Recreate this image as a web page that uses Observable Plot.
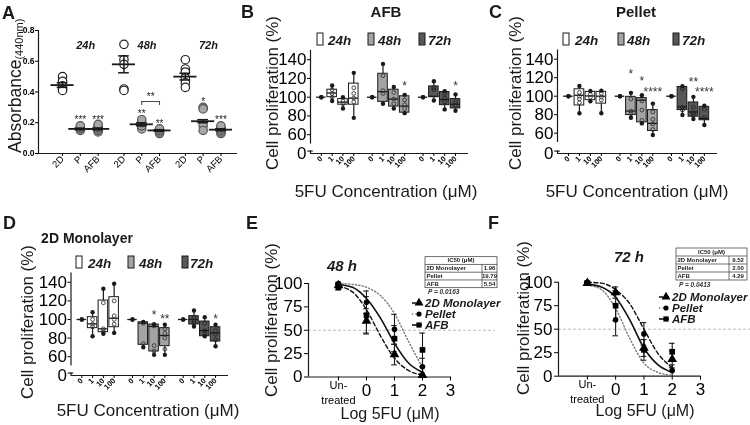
<!DOCTYPE html>
<html><head><meta charset="utf-8">
<script src="https://cdn.jsdelivr.net/npm/d3@7"></script>
<script src="https://cdn.jsdelivr.net/npm/@observablehq/plot@0.6"></script>
<style>
body{margin:0;background:#fff}
#fig{position:relative;width:750px;height:425px;overflow:hidden;background:#fff}
#fig svg{position:absolute;left:0;top:0;background:transparent !important;overflow:visible;max-width:none;will-change:transform}
</style></head><body><div id="fig"></div>
<script>
// ---------------- DATA ----------------
const times = ["24h", "48h", "72h"];
const absGroups = ["2D", "P", "AFB"];
// Panel A: absorbance points [time][group]
const absPoints = [
  [[0.50, 0.47, 0.44, 0.42, 0.41], [0.15, 0.16, 0.17, 0.18], [0.14, 0.15, 0.16, 0.17, 0.18, 0.19]],
  [[0.71, 0.61, 0.58, 0.42, 0.41], [0.16, 0.18, 0.20, 0.22], [0.13, 0.14, 0.15, 0.16]],
  [[0.61, 0.55, 0.53, 0.49, 0.46, 0.43], [0.30, 0.29, 0.18, 0.15], [0.13, 0.14, 0.15, 0.16, 0.17, 0.18]]
];
const absMean = [[0.445, 0.16, 0.16], [0.58, 0.19, 0.15], [0.50, 0.21, 0.155]];
const absSem = [[0.015, 0.005, 0.006], [0.055, 0.01, 0.005], [0.022, 0.01, 0.006]];
const absStars = [[0, 1, 0.236, "***"], [0, 2, 0.236, "***"], [1, 1, 0.275, "**"], [1, 2, 0.215, "**"], [2, 1, 0.356, "*"], [2, 2, 0.236, "***"]];
const absBracket = {time: 1, from: 1, to: 2, y: 0.338, foot: 0.312, label: "**", labelY: 0.39};

// Panels B-D: box stats [time][conc] = [min, q1, median, q3, max]
const concs = ["0", "1", "10", "100"];
const afbStats = [
  [[100,100,100,100,100], [96,100,104.5,108,112.5], [88,92,94.7,98,100], [78,92,99,114.5,126]],
  [[100,100,100,100,100], [93,95,106,125,135.5], [88,90,98,108,111], [83,83.5,90.5,101,102.5]],
  [[100,100,100,100,100], [96.5,100,101,111.5,117], [87,91.5,97.5,105.5,106.5], [85.5,88,92.5,98,103]]
];
const afbPoints = [
  [[], [108,104,100], [96,93], [110,104,99,95]],
  [[], [123,107,104], [105,98,93], [97,92,88]],
  [[], [110,108], [104,99,95], [95,91]]
];
const afbStars = [[1, 3, 116, "*"], [2, 3, 116, "*"]];

const pelletStats = [
  [[100,100,100,100,100], [81.5,90,101,107.5,111], [94.5,95.7,100.3,104.7,105.7], [81.5,92,100,104.7,106]],
  [[100,100,100,100,100], [76.7,79.6,84,99.3,103.6], [70.6,71.7,95.7,98,101], [58,62.4,70.6,85,92]],
  [[100,100,100,100,100], [79.6,85,88.5,110,110.7], [75.3,77.8,83,93.2,99.3], [68.8,74,76,88.5,89.6]]
];
const pelletPoints = [
  [[], [104,100,97,93], [102,99], [103,99,96]],
  [[], [97,84,81], [95,85,74], [83,75,70,64]],
  [[], [108,88,85], [88,82,80], [86,77]]
];
const pelletStars = [[1, 1, 128, "*"], [1, 2, 121, "*"], [1, 3, 109, "****"], [2, 2, 120, "**"], [2, 3, 109, "****"]];

const monoStats = [
  [[100,100,100,100,100], [82,90.7,95.3,102.5,107.9], [84.6,86.4,90,120.4,133], [85.6,91.7,101.4,124,138.4]],
  [[100,100,100,100,100], [70.2,72.8,96,97,97.5], [62,65.6,92.5,94.6,95], [62,71.3,82.8,90.7,94.3]],
  [[100,100,100,100,100], [92.5,94.6,100,103.6,109.7], [82,82,88.2,97.8,102.5], [71.3,76.3,85.6,91.7,94.3]]
];
const monoPoints = [
  [[], [100,95,92], [118,90,87], [120,104,100,95]],
  [[], [96,74], [93,72,66], [90,85,80,68]],
  [[], [102,98,96], [96,88,85], [88,84,78]]
];
const monoStars = [[1, 2, 108.6, "*"], [1, 3, 105, "**"], [2, 3, 104.3, "*"]];
const boxTicks = [60, 80, 100, 120, 140];

// Panels E-F: dose response (x = log10 µM, untreated plotted at -1)
const series = ["2D Monolayer", "Pellet", "AFB"];
const doseX = [-1, 0, 1, 2];
const e48MonoMean = [98, 60, 24, 2],  e48MonoErr = [2, 13, 11, 2];
const e48PelletMean = [100, 80, 51, 11], e48PelletErr = [1, 12, 16, 9];
const e48AfbMean = [96, 66, 41, 29], e48AfbErr = [3, 20, 14, 18];
const f72MonoMean = [99, 89, 30, 18], f72MonoErr = [1, 6, 9, 9];
const f72PelletMean = [100, 60, 45, 6], f72PelletErr = [1, 17, 12, 6];
const f72AfbMean = [99, 75, 28, 26], f72AfbErr = [1, 16, 11, 9];
// fitted curves, read at these x positions
const curveX = [-1, -0.5, 0, 0.5, 1, 1.5, 2];
const e48MonoCurve = [97, 91, 72, 44, 20, 7, 2];
const e48PelletCurve = [100, 99, 96, 87, 68, 38, 10];
const e48AfbCurve = [99, 96, 84, 63, 36, 15, 5];
const f72MonoCurve = [100, 99, 92, 77, 50, 24, 9];
const f72PelletCurve = [97, 92, 72, 40, 14, 4, 1];
const f72AfbCurve = [98, 95, 84, 60, 30, 12, 4];
const ic50At48 = ["1.96", "19.79", "5.54"];
const ic50At72 = ["9.52", "2.00", "4.29"];
const pAt48 = "P = 0.0163", pAt72 = "P = 0.0413";

// ---------------- STYLE ----------------
const FONT = "Liberation Sans, Arial, Helvetica, sans-serif";
const timeFill = ["#ffffff", "#a4a4a4", "#585858"];
const INK = "#1a1a1a";
const fig = document.getElementById("fig");

function plotAt(opts) {
  const svg = Plot.plot(Object.assign({width: 750, height: 425, style: {fontFamily: FONT, background: "transparent", overflow: "visible"}}, opts));
  fig.appendChild(svg);
}

// ---------------- PANEL A ----------------
(function () {
  const G = 3.45;
  const rows = [];
  times.forEach((t, ti) => absGroups.forEach((g, gi) => rows.push({p: ti * G + gi, ti, gi, m: absMean[ti][gi], s: absSem[ti][gi], label: g})));
  const pts = rows.flatMap(r => absPoints[r.ti][r.gi].map(v => ({p: r.p, v, gi: r.gi})));
  const stars = absStars.map(([ti, gi, v, s]) => ({p: ti * G + gi, v, s}));
  const tl = times.map((t, ti) => ({p: ti * G + 1.3, t}));
  const bx1 = absBracket.time * G + absBracket.from, bx2 = absBracket.time * G + absBracket.to;
  const labelOf = new Map(rows.map(r => [r.p, r.label]));
  const xmin = -1.35, xmax = 9.83;
  plotAt({
    marginLeft: 38, marginRight: 750 - 237, marginTop: 30, marginBottom: 425 - 153,
    x: {domain: [xmin, xmax], label: null},
    y: {domain: [0, 0.8], label: null},
    color: {type: "identity"},
    marks: [
      Plot.ruleX([xmin], {y1: 0, y2: 0.8, stroke: INK, strokeWidth: 1.2}),
      Plot.ruleY([0], {x1: xmin, x2: xmax, stroke: INK, strokeWidth: 1.2}),
      Plot.axisY({ticks: [0, 0.2, 0.4, 0.6, 0.8], tickFormat: ".1f", tickSize: 3, tickPadding: 1, fontSize: 8.5, fontWeight: "bold", label: null}),
      Plot.axisX({ticks: rows.map(r => r.p), tickFormat: d => labelOf.get(d), tickRotate: -45, tickSize: 3, tickPadding: 1, fontSize: 9.5, label: null}),
      Plot.dot(pts, {x: "p", y: "v", r: 4.2, fill: d => d.gi === 0 ? "#ffffff" : "#a8a8a8", stroke: d => d.gi === 0 ? "#222" : "#555", strokeWidth: 1.2}),
      Plot.ruleY(rows, {y: "m", x1: d => d.p - 0.65, x2: d => d.p + 0.65, stroke: INK, strokeWidth: 1.8}),
      Plot.ruleX(rows, {x: "p", y1: d => d.m - d.s, y2: d => d.m + d.s, stroke: INK, strokeWidth: 1.5}),
      Plot.ruleY(rows, {y: d => d.m + d.s, x1: d => d.p - 0.3, x2: d => d.p + 0.3, stroke: INK, strokeWidth: 1.5}),
      Plot.ruleY(rows, {y: d => d.m - d.s, x1: d => d.p - 0.3, x2: d => d.p + 0.3, stroke: INK, strokeWidth: 1.5}),
      Plot.text(stars, {x: "p", y: "v", text: "s", fontSize: 10, dy: 3, fill: "#222"}),
      Plot.ruleY([absBracket.y], {x1: bx1, x2: bx2, stroke: "#444", strokeWidth: 1}),
      Plot.ruleX([bx1, bx2], {y1: absBracket.foot, y2: absBracket.y, stroke: "#444", strokeWidth: 1}),
      Plot.text([absBracket.label], {x: (bx1 + bx2) / 2, y: absBracket.labelY, text: d => d, fontSize: 10, dy: 3, fill: "#222"}),
      Plot.text(tl, {x: "p", y: 0.70, text: "t", fontSize: 11, fontWeight: "bold", fontStyle: "italic", fill: INK})
    ]
  });
})();

// ---------------- PANELS B, C, D ----------------
function boxPanel(cfg) {
  const G = 4.7, W = 0.44, xmin = -1, xmax = 13.6;
  const yTop = cfg.y100 - 50 * cfg.ppu;          // pixel of value 150
  const yBase = 100 - (cfg.y0 - cfg.y100) / cfg.ppu; // broken-axis value drawn as "0"
  const rows = [];
  cfg.stats.forEach((grp, ti) => grp.forEach((s, ci) => rows.push({p: ti * G + ci, ti, ci, lo: s[0], q1: s[1], med: s[2], q3: s[3], hi: s[4], label: concs[ci]})));
  const pts = rows.flatMap(r => cfg.points[r.ti][r.ci].map(v => ({p: r.p, v, ti: r.ti})));
  const ends = rows.flatMap(r => [{p: r.p, v: r.lo}, {p: r.p, v: r.hi}]);
  const stars = cfg.stars.map(([ti, ci, v, s]) => ({p: ti * G + ci, v, s}));
  const labelOf = new Map(rows.map(r => [r.p, r.label]));
  plotAt({
    marginLeft: cfg.x0, marginRight: 750 - cfg.x1, marginTop: yTop, marginBottom: 425 - cfg.y0,
    x: {domain: [xmin, xmax], label: null},
    y: {domain: [yBase, 150], label: null},
    color: {type: "identity"},
    marks: [
      Plot.ruleX([xmin], {y1: 50, y2: 150, stroke: INK, strokeWidth: 1.2}),
      Plot.ruleX([xmin], {y1: yBase, y2: yBase + 2.6, stroke: INK, strokeWidth: 1.2}),
      Plot.ruleY([yBase + 2.6], {x1: xmin - 0.25, x2: xmin + 0.25, stroke: INK, strokeWidth: 1.2}),
      Plot.ruleY([yBase], {x1: xmin, x2: xmax, stroke: INK, strokeWidth: 1.2}),
      Plot.axisY({ticks: boxTicks, tickSize: 3, tickPadding: 1, fontSize: 17, label: null}),
      Plot.axisY({ticks: [yBase], tickFormat: () => "0", tickSize: 0, tickPadding: 4, fontSize: 17, label: null}),
      Plot.axisX({ticks: rows.map(r => r.p), tickFormat: d => labelOf.get(d), tickRotate: -45, tickSize: 3, tickPadding: 1, fontSize: 7.5, fontWeight: "bold", label: null}),
      Plot.ruleX(rows, {x: "p", y1: "q3", y2: "hi", stroke: INK, strokeWidth: 1.2}),
      Plot.ruleX(rows, {x: "p", y1: "lo", y2: "q1", stroke: INK, strokeWidth: 1.2}),
      Plot.rect(rows, {x1: d => d.p - W, x2: d => d.p + W, y1: "q1", y2: "q3", fill: d => timeFill[d.ti], stroke: INK, strokeWidth: 1}),
      Plot.ruleY(rows, {y: "med", x1: d => d.p - W, x2: d => d.p + W, stroke: INK, strokeWidth: 1.3}),
      Plot.dot(pts, {x: "p", y: "v", r: 1.9, fill: "none", stroke: d => d.ti === 2 ? "#222" : "#333", strokeWidth: 0.9}),
      Plot.dot(ends, {x: "p", y: "v", r: 2.2, fill: INK}),
      Plot.text(stars, {x: "p", y: "v", text: "s", fontSize: 12, dy: 4, fill: "#333"})
    ]
  });
}
boxPanel({stats: afbStats, points: afbPoints, stars: afbStars, x0: 310, x1: 468, y0: 153, y100: 96.7, ppu: 0.9375});
boxPanel({stats: pelletStats, points: pelletPoints, stars: pelletStars, x0: 557, x1: 717, y0: 153, y100: 95.7, ppu: 0.925});
boxPanel({stats: monoStats, points: monoPoints, stars: monoStars, x0: 70.5, x1: 228, y0: 375, y100: 319, ppu: 0.93});

// ---------------- PANELS E, F ----------------
const lineStyle = [
  {stroke: "#111", dash: "4,2.5", width: 1.4, symbol: "triangle", r: 3.6},
  {stroke: "#777", dash: "1.2,2.2", width: 1.4, symbol: "circle", r: 2.8},
  {stroke: "#111", dash: null, width: 1.6, symbol: "square", r: 3.2}
];
function dosePanel(cfg) {
  const rows = [];
  series.forEach((s, si) => doseX.forEach((x, i) => rows.push({x, si, m: cfg.mean[si][i], e: cfg.err[si][i]})));
  const curves = series.map((s, si) => curveX.map((x, i) => ({x, y: cfg.curve[si][i]})));
  const xmin = cfg.xmin;
  plotAt({
    marginLeft: cfg.x0, marginRight: 750 - cfg.x1, marginTop: cfg.y100, marginBottom: 425 - cfg.y0,
    x: {domain: [xmin, 3], label: null},
    y: {domain: [0, 100], label: null},
    marks: [
      Plot.ruleY([50], {x1: xmin, x2: cfg.refEnd, stroke: "#b5b5b5", strokeWidth: 0.9, strokeDasharray: "3,2"}),
      Plot.ruleX([xmin], {y1: 0, y2: 100, stroke: INK, strokeWidth: 1.2}),
      Plot.ruleY([0], {x1: xmin, x2: 3, stroke: INK, strokeWidth: 1.2}),
      Plot.axisY({ticks: [0, 25, 50, 75, 100], tickSize: 4, tickPadding: 2, fontSize: 17, label: null}),
      Plot.axisX({ticks: [-1, 0, 1, 2, 3], tickFormat: d => d < 0 ? "" : String(d), tickSize: 4, tickPadding: 3, fontSize: 17, label: null}),
      Plot.axisX({ticks: [-1], tickFormat: () => "Un-\ntreated", tickSize: 0, tickPadding: 1, fontSize: 11, lineHeight: 1.36, label: null}),
      ...curves.map((c, si) => Plot.line(c, {x: "x", y: "y", curve: "monotone-x", stroke: lineStyle[si].stroke, strokeWidth: lineStyle[si].width, strokeDasharray: lineStyle[si].dash})),
      Plot.ruleX(rows, {x: "x", y1: d => Math.max(0, d.m - d.e), y2: d => d.m + d.e, stroke: INK, strokeWidth: 1.1}),
      Plot.ruleY(rows, {y: d => d.m + d.e, x1: d => d.x - 0.1, x2: d => d.x + 0.1, stroke: INK, strokeWidth: 1.1}),
      Plot.ruleY(rows.filter(d => d.m - d.e > 0), {y: d => d.m - d.e, x1: d => d.x - 0.1, x2: d => d.x + 0.1, stroke: INK, strokeWidth: 1.1}),
      ...series.map((s, si) => Plot.dot(rows.filter(d => d.si === si), {x: "x", y: "m", symbol: lineStyle[si].symbol, r: lineStyle[si].r, fill: "#000"}))
    ]
  });
}
dosePanel({mean: [e48MonoMean, e48PelletMean, e48AfbMean], err: [e48MonoErr, e48PelletErr, e48AfbErr],
  curve: [e48MonoCurve, e48PelletCurve, e48AfbCurve], x0: 308, x1: 450, y0: 376.5, y100: 283, xmin: -2.07, refEnd: 4.6});
dosePanel({mean: [f72MonoMean, f72PelletMean, f72AfbMean], err: [f72MonoErr, f72PelletErr, f72AfbErr],
  curve: [f72MonoCurve, f72PelletCurve, f72AfbCurve], x0: 558, x1: 700, y0: 375.7, y100: 281.7, xmin: -2.02, refEnd: 6.6});

// ---------------- ANNOTATIONS ----------------
const ann = d3.select(fig).append("svg").attr("width", 750).attr("height", 425).style("font-family", FONT);
function txt(x, y, s, o = {}) {
  const t = ann.append("text").attr("x", x).attr("y", y).text(s)
    .attr("font-size", o.size || 12).attr("font-weight", o.weight || "normal").attr("font-style", o.style || "normal")
    .attr("text-anchor", o.anchor || "start").attr("fill", o.fill || INK);
  if (o.rotate) t.attr("transform", `rotate(${o.rotate},${x},${y})`);
  if (o.baseline) t.attr("dominant-baseline", o.baseline);
  return t;
}
// panel letters
[["A", 2, 19], ["B", 241, 18], ["C", 489, 18], ["D", 3, 229], ["E", 246, 229], ["F", 488, 229]]
  .forEach(([l, x, y]) => txt(x, y, l, {size: 18, weight: "bold"}));
// titles
txt(386, 17, "AFB", {size: 15, weight: "bold", anchor: "middle"});
txt(636, 17, "Pellet", {size: 15, weight: "bold", anchor: "middle"});
txt(87, 243, "2D Monolayer", {size: 14, weight: "bold", anchor: "middle"});
txt(342, 271, "48 h", {size: 15, weight: "bold", style: "italic", anchor: "middle"});
txt(629, 262, "72 h", {size: 15, weight: "bold", style: "italic", anchor: "middle"});
// axis titles
const absT = txt(21, 153, "Absorbance", {size: 17.5, rotate: -90});
absT.append("tspan").attr("font-size", 11).attr("dy", 2).text("(440nm)");
[[272, 93], [515, 93], [27, 322], [271, 320], [523, 318]].forEach(([x, y]) =>
  txt(x, y, "Cell proliferation (%)", {size: 17, anchor: "middle", rotate: -90, baseline: "central"}));
txt(386, 197, "5FU Concentration (\u03bcM)", {size: 17, anchor: "middle"});
txt(637, 197, "5FU Concentration (\u03bcM)", {size: 17, anchor: "middle"});
txt(148, 416, "5FU Concentration (\u03bcM)", {size: 17, anchor: "middle"});
txt(390, 419, "Log 5FU (\u03bcM)", {size: 16, anchor: "middle"});
txt(645, 416, "Log 5FU (\u03bcM)", {size: 16, anchor: "middle"});
// time legends for box panels
function timeLegend(rx, tx, y) {
  times.forEach((t, i) => {
    ann.append("rect").attr("x", rx[i]).attr("y", y - 12).attr("width", 6).attr("height", 12)
      .attr("fill", timeFill[i]).attr("stroke", INK).attr("stroke-width", 1);
    txt(tx[i], y, t, {size: 13.5, weight: "bold", style: "italic"});
  });
}
timeLegend([317, 368, 419], [328, 378, 428], 45);
timeLegend([563, 618, 673], [575, 627, 682], 45);
timeLegend([76, 128, 182], [88, 139, 190], 268);
// dose legends
function doseLegend(sx, tx, ys) {
  series.forEach((s, i) => {
    const st = lineStyle[i];
    ann.append("line").attr("x1", sx - 7).attr("x2", sx + 3).attr("y1", ys[i]).attr("y2", ys[i])
      .attr("stroke", st.stroke).attr("stroke-width", st.width).attr("stroke-dasharray", st.dash);
    const sym = {triangle: d3.symbolTriangle, circle: d3.symbolCircle, square: d3.symbolSquare}[st.symbol];
    ann.append("path").attr("d", d3.symbol(sym, Math.PI * st.r * st.r * 0.85)()).attr("transform", `translate(${sx},${ys[i]})`).attr("fill", "#000");
    txt(tx, ys[i] + 4, s, {size: 11.5, weight: "bold", style: "italic"});
  });
}
doseLegend(419, 425, [303, 314, 325]);
doseLegend(666, 672, [297, 308, 319]);
// IC50 tables
function ic50Table(x0, x1, y0, y1, xs, vals, ptxt) {
  const rh = (y1 - y0) / 4;
  const g = ann.append("g").attr("font-size", 6).attr("font-weight", "bold").attr("fill", INK);
  g.append("rect").attr("x", x0).attr("y", y0).attr("width", x1 - x0).attr("height", y1 - y0).attr("fill", "#fff").attr("stroke", "#333").attr("stroke-width", 0.7);
  for (let i = 1; i < 4; i++) g.append("line").attr("x1", x0).attr("x2", x1).attr("y1", y0 + i * rh).attr("y2", y0 + i * rh).attr("stroke", "#333").attr("stroke-width", 0.7);
  g.append("line").attr("x1", xs).attr("x2", xs).attr("y1", y0 + rh).attr("y2", y1).attr("stroke", "#333").attr("stroke-width", 0.7);
  g.append("text").attr("x", (x0 + x1) / 2).attr("y", y0 + rh - 2).attr("text-anchor", "middle").text("IC50 (\u03bcM)");
  series.forEach((s, i) => {
    g.append("text").attr("x", x0 + 1.5).attr("y", y0 + (i + 2) * rh - 2).text(s);
    g.append("text").attr("x", (xs + x1) / 2).attr("y", y0 + (i + 2) * rh - 2).attr("text-anchor", "middle").text(vals[i]);
  });
  txt(x0 + 3, y1 + 6.5, ptxt, {size: 6.5, weight: "bold", style: "italic", fill: "#333"});
}
ic50Table(425, 497, 256.7, 287.7, 482, ic50At48, pAt48);
ic50Table(676, 747, 248, 280, 729, ic50At72, pAt72);
</script></body></html>
